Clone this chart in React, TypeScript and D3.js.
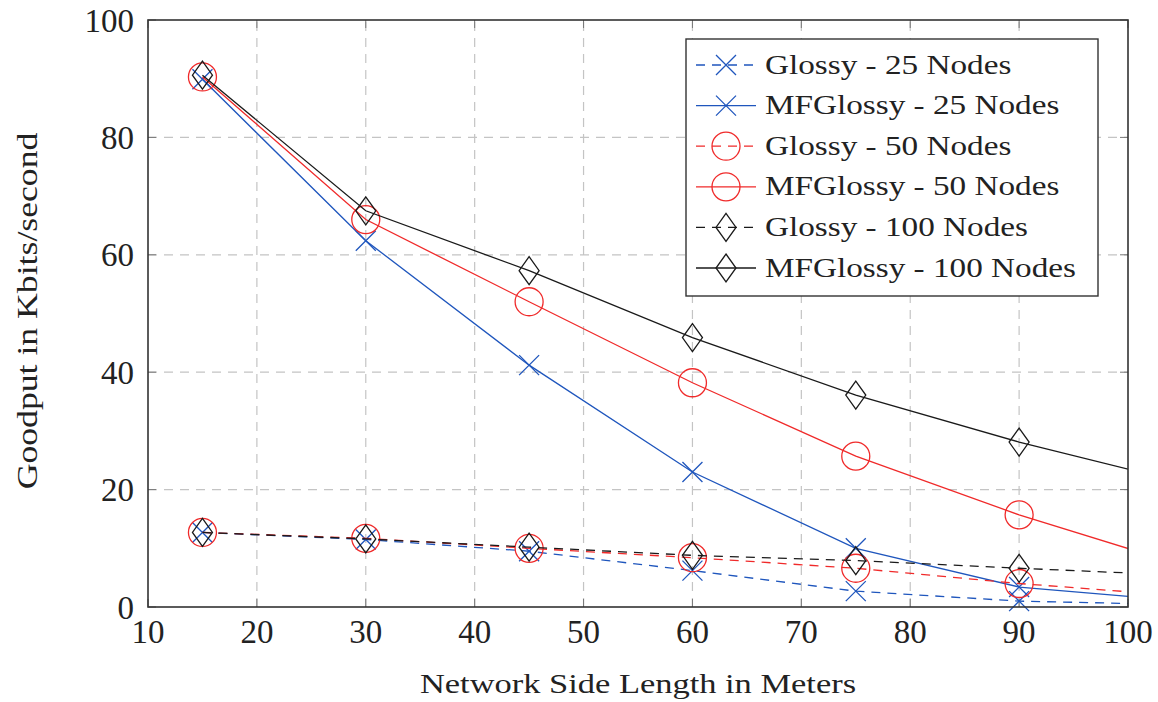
import { useEffect, useRef } from "react";
import * as d3 from "d3";

// side length in meters (last point lies outside the axis and is clipped)
const sideLength = [15, 30, 45, 60, 75, 90, 105];

const glossy25 = [12.7, 11.5, 9.5, 6.2, 2.7, 1.0, 0.4];
const mfGlossy25 = [89.9, 62.4, 41.2, 23.0, 10.0, 3.4, 1.0];
const glossy50 = [12.7, 11.7, 10.0, 8.4, 6.6, 4.0, 1.9];
const mfGlossy50 = [90.3, 66.0, 52.0, 38.2, 25.7, 15.7, 7.1];
const glossy100 = [12.7, 11.6, 10.2, 8.8, 7.9, 6.6, 5.4];
const mfGlossy100 = [90.6, 67.5, 57.3, 45.9, 36.1, 28.1, 21.2];

const xTicks = [10, 20, 30, 40, 50, 60, 70, 80, 90, 100];
const yTicks = [0, 20, 40, 60, 80, 100];

const BLUE = "#1f56bd";
const RED = "#f02a2a";
const BLACK = "#1a1a1a";

const series = [
  { name: "Glossy - 25 Nodes", values: glossy25, color: BLUE, dashed: true, mark: "x" },
  { name: "MFGlossy - 25 Nodes", values: mfGlossy25, color: BLUE, dashed: false, mark: "x" },
  { name: "Glossy - 50 Nodes", values: glossy50, color: RED, dashed: true, mark: "o" },
  { name: "MFGlossy - 50 Nodes", values: mfGlossy50, color: RED, dashed: false, mark: "o" },
  { name: "Glossy - 100 Nodes", values: glossy100, color: BLACK, dashed: true, mark: "d" },
  { name: "MFGlossy - 100 Nodes", values: mfGlossy100, color: BLACK, dashed: false, mark: "d" },
];

const FONT = "'Liberation Serif', 'DejaVu Serif', serif";
// Computer Modern is wider than Liberation Serif, stretch words a bit
const STRETCH = 1.23;

const widen = (sel) => {
  sel.each(function () {
    const len = this.getComputedTextLength();
    d3.select(this).attr("textLength", len * STRETCH).attr("lengthAdjust", "spacingAndGlyphs");
  });
};

const drawMark = (g, type, cx, cy, color) => {
  if (type === "x") {
    const s = 10;
    g.append("path")
      .attr("d", `M${cx - s},${cy - s}L${cx + s},${cy + s}M${cx - s},${cy + s}L${cx + s},${cy - s}`)
      .attr("stroke", color)
      .attr("stroke-width", 1.3)
      .attr("fill", "none");
  } else if (type === "o") {
    g.append("circle")
      .attr("cx", cx)
      .attr("cy", cy)
      .attr("r", 14)
      .attr("stroke", color)
      .attr("stroke-width", 1.3)
      .attr("fill", "none");
  } else {
    g.append("path")
      .attr("d", `M${cx},${cy - 14}L${cx + 10},${cy}L${cx},${cy + 14}L${cx - 10},${cy}Z`)
      .attr("stroke", color)
      .attr("stroke-width", 1.3)
      .attr("fill", "none");
  }
};

export default function App() {
  const svgRef = useRef(null);
  const width = 1158;
  const height = 702;
  const margin = { left: 148, right: 30, top: 20, bottom: 95 };

  useEffect(() => {
    const svg = d3.select(svgRef.current);
    svg.selectAll("*").remove();

    const x = d3.scaleLinear().domain([10, 100]).range([margin.left, width - margin.right]);
    const y = d3.scaleLinear().domain([0, 100]).range([height - margin.bottom, margin.top]);

    const x0 = x.range()[0], x1 = x.range()[1];
    const y0 = y.range()[0], y1 = y.range()[1];

    svg.append("defs")
      .append("clipPath")
      .attr("id", "plot-clip")
      .append("rect")
      .attr("x", x0)
      .attr("y", y1)
      .attr("width", x1 - x0)
      .attr("height", y0 - y1);

    // grid
    const grid = svg.append("g");
    xTicks.slice(1, -1).forEach((t) => {
      grid.append("line")
        .attr("x1", x(t)).attr("x2", x(t)).attr("y1", y0).attr("y2", y1)
        .attr("stroke", "#c4c4c4").attr("stroke-width", 1.2).attr("stroke-dasharray", "9,7");
    });
    yTicks.slice(1, -1).forEach((t) => {
      grid.append("line")
        .attr("x1", x0).attr("x2", x1).attr("y1", y(t)).attr("y2", y(t))
        .attr("stroke", "#c4c4c4").attr("stroke-width", 1.2).attr("stroke-dasharray", "9,7");
    });

    // ticks on all four sides, pointing inward
    const ticks = svg.append("g").attr("stroke", "#777").attr("stroke-width", 1);
    xTicks.forEach((t) => {
      ticks.append("line").attr("x1", x(t)).attr("x2", x(t)).attr("y1", y0).attr("y2", y0 - 8);
      ticks.append("line").attr("x1", x(t)).attr("x2", x(t)).attr("y1", y1).attr("y2", y1 + 8);
    });
    yTicks.forEach((t) => {
      ticks.append("line").attr("x1", x0).attr("x2", x0 + 8).attr("y1", y(t)).attr("y2", y(t));
      ticks.append("line").attr("x1", x1).attr("x2", x1 - 8).attr("y1", y(t)).attr("y2", y(t));
    });

    // tick labels
    svg.append("g")
      .selectAll("text")
      .data(xTicks)
      .enter()
      .append("text")
      .attr("x", (d) => x(d))
      .attr("y", y0 + 36)
      .attr("text-anchor", "middle")
      .style("font-family", FONT)
      .style("font-size", "33px")
      .attr("fill", "#222")
      .text((d) => d);

    svg.append("g")
      .selectAll("text")
      .data(yTicks)
      .enter()
      .append("text")
      .attr("x", x0 - 14)
      .attr("y", (d) => y(d) + 11.5)
      .attr("text-anchor", "end")
      .style("font-family", FONT)
      .style("font-size", "33px")
      .attr("fill", "#222")
      .text((d) => d);

    // axis titles
    svg.append("text")
      .attr("x", (x0 + x1) / 2)
      .attr("y", 693)
      .attr("text-anchor", "middle")
      .style("font-family", FONT)
      .style("font-size", "28px")
      .attr("fill", "#222")
      .text("Network Side Length in Meters")
      .call(widen);

    svg.append("text")
      .attr("transform", `translate(37,311) rotate(-90)`)
      .attr("text-anchor", "middle")
      .style("font-family", FONT)
      .style("font-size", "29px")
      .attr("fill", "#222")
      .text("Goodput in Kbits/second")
      .call(widen);

    // data
    const line = d3.line().x((d) => x(d[0])).y((d) => y(d[1]));
    const plots = svg.append("g");
    series.forEach((s) => {
      const pts = sideLength.map((v, i) => [v, s.values[i]]);
      plots.append("path")
        .datum(pts)
        .attr("d", line)
        .attr("clip-path", "url(#plot-clip)")
        .attr("fill", "none")
        .attr("stroke", s.color)
        .attr("stroke-width", 1.3)
        .attr("stroke-dasharray", s.dashed ? "9,7" : null);
      pts.filter((p) => p[0] <= 100).forEach((p) => drawMark(plots, s.mark, x(p[0]), y(p[1]), s.color));
    });

    // frame
    svg.append("rect")
      .attr("x", x0).attr("y", y1).attr("width", x1 - x0).attr("height", y0 - y1)
      .attr("fill", "none").attr("stroke", "#333").attr("stroke-width", 1.6);

    // legend
    const lg = svg.append("g");
    lg.append("rect")
      .attr("x", 686).attr("y", 39).attr("width", 412).attr("height", 257)
      .attr("fill", "white").attr("stroke", "#333").attr("stroke-width", 1.4);
    series.forEach((s, i) => {
      const cy = 65 + i * 40.6;
      lg.append("line")
        .attr("x1", 696).attr("x2", 756).attr("y1", cy).attr("y2", cy)
        .attr("stroke", s.color).attr("stroke-width", 1.3)
        .attr("stroke-dasharray", s.dashed ? "9,7" : null);
      drawMark(lg, s.mark, 726, cy, s.color);
      lg.append("text")
        .attr("x", 765)
        .attr("y", cy + 8.5)
        .style("font-family", FONT)
        .style("font-size", "27px")
        .attr("fill", "#222")
        .text(s.name)
        .call(widen);
    });
  }, []);

  return (
    <svg
      ref={svgRef}
      width={width}
      height={height}
      style={{ position: "absolute", left: 0, top: 0, background: "white" }}
    ></svg>
  );
}
